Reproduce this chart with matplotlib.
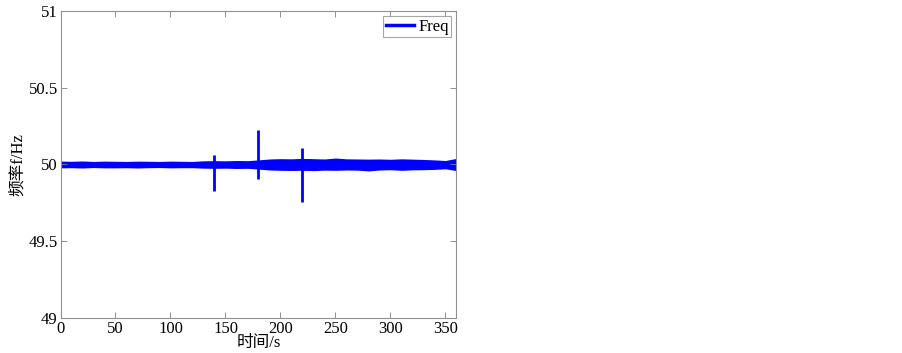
import matplotlib
matplotlib.use("Agg")
import matplotlib.pyplot as plt
from matplotlib.lines import Line2D

plt.rcParams['font.family'] = ['Liberation Serif', 'Noto Sans CJK SC', 'DejaVu Sans']

# Time grid of the band envelope (s)
env_time = list(range(0, 361, 10))
# Upper / lower envelope of the noisy frequency trace (Hz)
env_upper = [50.022, 50.021, 50.023, 50.020, 50.022, 50.021, 50.020, 50.022, 50.021, 50.020,
             50.022, 50.021, 50.020, 50.024, 50.025, 50.024, 50.026, 50.025, 50.030, 50.036,
             50.038, 50.037, 50.040, 50.038, 50.036, 50.042, 50.037, 50.036, 50.035, 50.036,
             50.034, 50.037, 50.035, 50.033, 50.030, 50.026, 50.040]
env_lower = [49.978, 49.979, 49.977, 49.980, 49.978, 49.978, 49.979, 49.977, 49.979, 49.980,
             49.978, 49.979, 49.979, 49.976, 49.975, 49.976, 49.974, 49.975, 49.970, 49.964,
             49.962, 49.961, 49.962, 49.960, 49.963, 49.962, 49.964, 49.963, 49.958, 49.964,
             49.966, 49.962, 49.965, 49.966, 49.968, 49.972, 49.960]

# Disturbance spikes
spike_time = [140, 180, 220]
spike_top = [50.065, 50.227, 50.107]
spike_bottom = [49.826, 49.907, 49.756]

x_ticks = [0, 50, 100, 150, 200, 250, 300, 350]
y_ticks = [49, 49.5, 50, 50.5, 51]
y_ticklabels = ['49', '49.5', '50', '50.5', '51']

fig = plt.figure(figsize=(9.03, 3.53), dpi=100)
ax = fig.add_axes([0.067, 0.0992, 0.4385, 0.8696])

blue = '#0000ff'
ax.fill_between(env_time, env_lower, env_upper, color=blue, linewidth=0)
ax.vlines(spike_time, spike_bottom, spike_top, color=blue, linewidth=2)

ax.set_xlim(0, 360)
ax.set_ylim(49, 51)
ax.set_xticks(x_ticks)
ax.set_yticks(y_ticks)
ax.set_yticklabels(y_ticklabels)
ax.tick_params(direction='in', top=True, right=True, length=4, width=0.6,
               colors='#808080', labelcolor='black', labelsize=12, pad=2)
for s in ax.spines.values():
    s.set_color('#909090')
    s.set_linewidth(0.8)

ax.set_xlabel('时间/s', fontsize=12, labelpad=-1)
ax.set_ylabel('频率f/Hz', fontsize=12, labelpad=2)

handle = Line2D([0], [0], color=blue, linewidth=2.5)
leg = ax.legend([handle], ['Freq'], loc='upper right', fontsize=12, frameon=True,
                fancybox=False, borderpad=0.15, handlelength=1.7, handletextpad=0.25,
                borderaxespad=0.3)
leg.get_frame().set_edgecolor('#909090')
leg.get_frame().set_linewidth(0.8)

fig.savefig('out.png', dpi=100)
